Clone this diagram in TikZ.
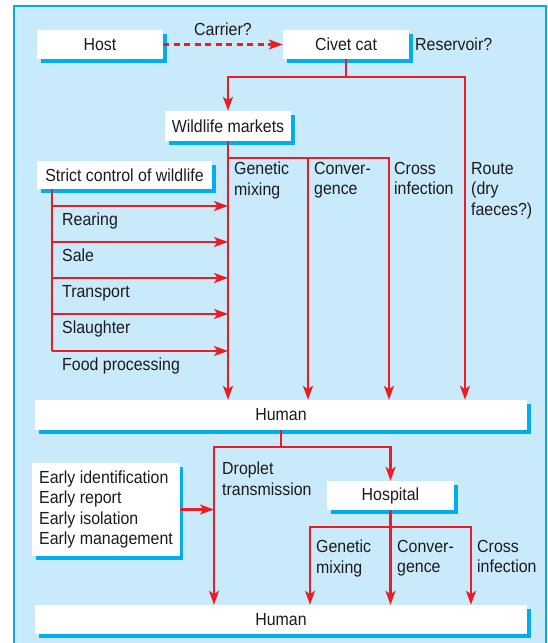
\documentclass[tikz,border=0pt]{standalone}
\usepackage{fontspec}
\setmainfont{Liberation Sans}[FakeStretch=0.91]
\usetikzlibrary{positioning,arrows.meta,shadows}
\definecolor{sarsred}{RGB}{237,28,36}
\definecolor{sarscyan}{RGB}{0,174,239}
\definecolor{sarsbg}{RGB}{200,234,250}
\definecolor{sarstext}{RGB}{30,27,28}
\tikzset{
  box/.style={fill=white, text=sarstext, inner sep=0pt, minimum height=29pt,
              drop shadow={shadow xshift=3.5pt, shadow yshift=-3.5pt, fill=sarscyan, opacity=1}},
  wire/.style={draw=sarsred, line width=2.1pt},
  flow/.style={wire, -{Stealth[length=14pt,width=10pt,inset=3.5pt]}},
  maybe/.style={flow, dash pattern=on 6pt off 4.5pt},
  lab/.style={text=sarstext, inner sep=0pt, align=left, anchor=north west},
  one/.style={text=sarstext, inner sep=0pt, anchor=base west},
}

\begin{document}
\begin{tikzpicture}[x=1pt, y=-1pt, font=\fontsize{17.5}{20.5}\selectfont]
  \useasboundingbox (0,0) rectangle (547,643);
  \fill[sarsbg] (14,6) rectangle (546,643);
  \draw[sarscyan, line width=1.5pt] (14,643) -- (14,6) -- (546,6) -- (546,643);

  % source and reservoir
  \node[box, minimum width=126pt] (host) at (100,44.5) {Host};
  \node[box, minimum width=126pt] (civet) at (346,44.5) {Civet cat};
  \node[one] (res) at (415,50) {Reservoir?};
  \draw[maybe] (host) -- node[above=8pt, inner sep=0pt, text=sarstext] (carrier) {Carrier?} (civet);

  \node[box, minimum width=126pt, minimum height=30pt] (wild) at (228,126) {Wildlife markets};
  \node[box, minimum width=492pt, minimum height=30pt] (hum1) at (281,415) {Human};

  \coordinate (civj) at (346,77);
  \coordinate (wj) at (228,158);
  \draw[flow] (civet.south) -- (civj) -| (wild.north);
  \draw[flow] (civj) -| (hum1.north -| 465,0);
  \draw[flow] (wild.south) -- (wild.south |- hum1.north);
  \draw[flow] (wj) -| (hum1.north -| 308,0);
  \draw[flow] (wj) -| (hum1.north -| 389,0);

  \node[lab] (gen1) at (234,162) {Genetic\\mixing};
  \node[lab] (conv1) at (314,162) {Conver-\\gence};
  \node[lab] (cross1) at (394,162) {Cross\\infection};
  \node[lab] (route) at (471,162) {Route\\(dry\\faeces?)};

  % control of the trade
  \node[box, minimum width=175pt, minimum height=28pt] (strict) at (124.5,175) {Strict control of wildlife};
  \coordinate (sc) at (52,189);
  \draw[wire] (sc) -- (sc |- 0,351);
  \foreach \y/\stage in {206/Rearing,242/Sale,278/Transport,314/Slaughter,351/Food processing}{
    \draw[flow] (sc |- 0,\y) -- (wild.south |- 0,\y);
    \node[one] (ctl-\y) at (62,\y+19) {\stage};
  }

  % human to human
  \node[box, minimum width=492pt] (hum2) at (281,619.5) {Human};
  \node[box, minimum width=127pt] (hosp) at (390.5,495.5) {Hospital};
  \node[box, align=left, inner sep=7pt, minimum height=93pt] (early) at (106,509.5)
    {Early identification\\Early report\\Early isolation\\Early management};

  \coordinate (hj) at (281,447);
  \coordinate (dj) at (214,447);
  \coordinate (pj) at (390.5,527);
  \draw[wire] (hum1.south) -- (hj);
  \draw[flow] (hj) -| (hosp.north);
  \draw[flow] (hj) -| (dj |- hum2.north);
  \draw[flow] (early) -- (early -| dj);
  \draw[flow] (hosp.south) -- (hosp.south |- hum2.north);
  \draw[flow] (pj) -| (hum2.north -| 310,0);
  \draw[flow] (pj) -| (hum2.north -| 471,0);

  \node[lab] (drop) at (222,462) {Droplet\\transmission};
  \node[lab] (gen2) at (316,540) {Genetic\\mixing};
  \node[lab] (conv2) at (397,540) {Conver-\\gence};
  \node[lab] (cross2) at (477,540) {Cross\\infection};
\end{tikzpicture}
\end{document}
